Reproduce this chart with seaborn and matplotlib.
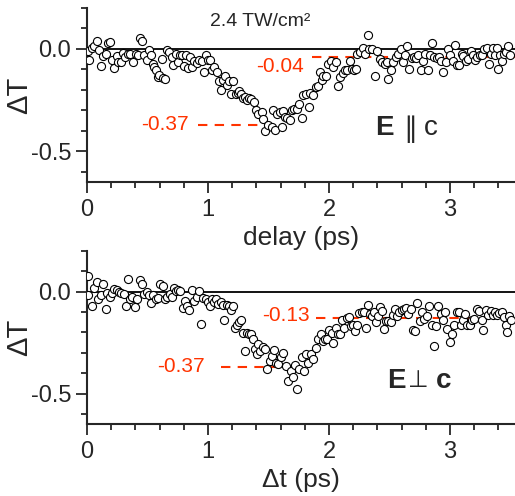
import matplotlib
matplotlib.use("Agg")
import matplotlib.pyplot as plt
import seaborn as sns
import pandas as pd
from matplotlib.ticker import MultipleLocator

# --- dữ liệu ---
top_x = [0.011, 0.019, 0.039, 0.061, 0.080, 0.099, 0.116, 0.135, 0.157, 0.176, 0.190, 0.209, 0.226, 0.245,
         0.259, 0.278, 0.300, 0.314, 0.336, 0.355, 0.383, 0.402, 0.424, 0.438, 0.457, 0.474, 0.493, 0.512,
         0.526, 0.543, 0.556, 0.570, 0.584, 0.598, 0.617, 0.631, 0.645, 0.658, 0.680, 0.700, 0.714, 0.733,
         0.749, 0.769, 0.788, 0.804, 0.815, 0.832, 0.851, 0.871, 0.887, 0.906, 0.928, 0.948, 0.967, 0.983,
         1.003, 1.017, 1.036, 1.052, 1.072, 1.091, 1.107, 1.121, 1.140, 1.154, 1.176, 1.190, 1.209, 1.229,
         1.245, 1.259, 1.270, 1.287, 1.306, 1.320, 1.342,
         1.355, 1.380, 1.397, 1.416, 1.443, 1.457, 1.471, 1.498, 1.526, 1.534, 1.554, 1.567, 1.595, 1.609,
         1.622, 1.636, 1.656, 1.678, 1.691, 1.713, 1.738, 1.755, 1.774, 1.788, 1.810, 1.832, 1.843, 1.870,
         1.892, 1.912, 1.925, 1.939, 1.953, 1.975, 1.994, 2.014, 2.036, 2.058, 2.077, 2.091, 2.113, 2.132,
         2.151, 2.173, 2.187, 2.207, 2.223, 2.234, 2.256, 2.278, 2.298, 2.319, 2.333, 2.353, 2.380, 2.399,
         2.421, 2.441, 2.463, 2.476, 2.490, 2.510, 2.532, 2.551, 2.573, 2.592, 2.609, 2.628, 2.647, 2.664,
         2.683, 2.702, 2.719, 2.738, 2.757, 2.774, 2.793, 2.815, 2.834, 2.848, 2.868, 2.890, 2.912, 2.926,
         2.945, 2.964, 2.986, 3.000, 3.022, 3.041, 3.060, 3.077, 3.096, 3.110, 3.132, 3.151, 3.171, 3.187,
         3.206, 3.226, 3.248, 3.261, 3.281, 3.303, 3.322, 3.336, 3.353, 3.372, 3.386, 3.399, 3.413, 3.432,
         3.446, 3.463, 3.477, 3.496]
top_y = [-0.008, -0.053, 0.003, 0.016, 0.039, -0.005, -0.084, -0.037, -0.024, 0.029, 0.035, -0.053, -0.094,
         -0.037, -0.062, -0.062, -0.020, -0.041, -0.024, -0.024, -0.065, -0.024, -0.028, 0.053, 0.040, -0.032,
         -0.053, -0.005, -0.029, -0.073, -0.086, -0.105, -0.138, -0.126, -0.049, -0.143, -0.146, -0.005,
         -0.016, -0.041, -0.078, -0.024, -0.065, -0.028, -0.032, -0.084, -0.029, -0.092, -0.041, -0.089,
         -0.060, -0.068, -0.053, -0.060, -0.113, -0.029, -0.052, -0.053, -0.102, -0.086, -0.113, -0.157,
         -0.202, -0.154, -0.130, -0.178, -0.157, -0.222, -0.157, -0.222, -0.214, -0.206, -0.219, -0.240,
         -0.235, -0.251, -0.240,
         -0.243, -0.259, -0.296, -0.316, -0.308, -0.340, -0.401, -0.372, -0.380, -0.299, -0.397, -0.316,
         -0.308, -0.380, -0.303, -0.332, -0.335, -0.348, -0.296, -0.291, -0.291, -0.267, -0.335, -0.227,
         -0.219, -0.283, -0.215, -0.223, -0.186, -0.183, -0.113, -0.151, -0.134, -0.130, -0.076, -0.057,
         -0.086, -0.062, -0.183, -0.138, -0.118, -0.105, -0.105, -0.057, -0.097, -0.102, -0.097, -0.024,
         -0.016, 0.003, -0.024, 0.069, 0.000, 0.000, -0.130, -0.008, -0.049, -0.065, -0.076, -0.065,
         -0.146, -0.105, -0.065, -0.041, -0.024, 0.000, -0.065, -0.032, 0.016, -0.097, -0.044, -0.041,
         -0.044, -0.028, -0.105, -0.060, -0.024, -0.105, -0.028, 0.027, -0.041, -0.044, -0.041, -0.057,
         -0.113, -0.065, 0.000, -0.028, -0.057, 0.019, -0.081, -0.081, -0.024, -0.037, -0.057, -0.049,
         -0.011, -0.032, -0.053, -0.041, -0.032, -0.028, 0.000, 0.005, -0.076, -0.024, 0.005, -0.032,
         0.005, -0.097, -0.028, -0.057, -0.024, -0.016, 0.016, -0.032]

bot_x = [0.011, 0.011, 0.039, 0.058, 0.080, 0.094, 0.113, 0.135, 0.154, 0.168, 0.190, 0.209, 0.226, 0.245,
         0.264, 0.281, 0.306, 0.322, 0.342, 0.355, 0.375, 0.397, 0.416, 0.438, 0.457, 0.471, 0.493, 0.512,
         0.529, 0.548, 0.567, 0.590, 0.603, 0.625, 0.645, 0.664, 0.686, 0.705, 0.722, 0.733, 0.749, 0.769,
         0.791, 0.810, 0.829, 0.846, 0.865, 0.884, 0.906, 0.926, 0.942, 0.961, 0.981, 0.997, 1.017, 1.036,
         1.052, 1.066, 1.085, 1.105, 1.121, 1.135, 1.154, 1.174, 1.187, 1.209, 1.223, 1.237, 1.256, 1.270,
         1.287, 1.306, 1.320, 1.342,
         1.355, 1.375, 1.388, 1.402, 1.416, 1.430, 1.452, 1.471, 1.490, 1.512, 1.526, 1.548, 1.562, 1.581,
         1.600, 1.617, 1.645, 1.664, 1.683, 1.700, 1.719, 1.738, 1.755, 1.774, 1.793, 1.810, 1.829, 1.848,
         1.865, 1.890, 1.912, 1.931, 1.948, 1.967, 1.986, 2.003, 2.022, 2.036, 2.058, 2.071, 2.091, 2.110,
         2.127, 2.146, 2.165, 2.182, 2.201, 2.215, 2.234, 2.251, 2.270, 2.289, 2.306, 2.319, 2.339, 2.353,
         2.372, 2.386, 2.402, 2.421, 2.435, 2.454, 2.471, 2.490, 2.510, 2.526, 2.545, 2.565, 2.581, 2.600,
         2.620, 2.636, 2.656, 2.675, 2.691, 2.711, 2.730, 2.752, 2.771, 2.788, 2.807, 2.826, 2.848, 2.868,
         2.884, 2.903, 2.923, 2.939, 2.959, 2.978, 3.000, 3.016, 3.036, 3.055, 3.074, 3.088, 3.105, 3.124,
         3.143, 3.165, 3.179, 3.198, 3.220, 3.240, 3.262, 3.275, 3.298, 3.317, 3.336, 3.353, 3.372, 3.391,
         3.408, 3.427, 3.446, 3.463, 3.474, 3.490, 3.501]
bot_y = [0.076, -0.016, -0.069, 0.016, 0.049, -0.037, -0.016, 0.037, -0.086, -0.005, -0.024, -0.005, 0.011,
         0.008, 0.000, -0.008, -0.011, -0.069, 0.060, -0.037, -0.027, -0.073, -0.037, 0.057, 0.036, -0.011,
         0.000, -0.016, -0.056, -0.016, -0.037, -0.032, 0.037, 0.029, -0.037, -0.027, -0.011, -0.024, 0.016,
         0.005, 0.008, 0.005, -0.081, -0.044, -0.069, -0.092, 0.008, -0.044, -0.027, 0.005, -0.157, -0.032,
         -0.037, -0.053, -0.069, -0.037, -0.053, -0.037, -0.060, -0.053, -0.065, -0.141, -0.065, -0.069,
         -0.092, -0.069, -0.178, -0.162, -0.150, -0.137, -0.202, -0.291, -0.202, -0.210,
         -0.210, -0.234, -0.283, -0.307, -0.259, -0.291, -0.270, -0.283, -0.380, -0.340, -0.315, -0.286,
         -0.348, -0.356, -0.319, -0.299, -0.364, -0.437, -0.388, -0.421, -0.361, -0.480, -0.380, -0.323,
         -0.388, -0.307, -0.348, -0.307, -0.328, -0.275, -0.234, -0.207, -0.243, -0.234, -0.234, -0.186,
         -0.205, -0.251, -0.178, -0.210, -0.210, -0.137, -0.178, -0.129, -0.124, -0.167, -0.162, -0.194,
         -0.162, -0.105, -0.102, -0.102, -0.178, -0.066, -0.108, -0.121, -0.102, -0.150, -0.118, -0.073,
         -0.097, -0.183, -0.145, -0.142, -0.150, -0.113, -0.086, -0.121, -0.102, -0.089, -0.086, -0.081,
         -0.108, -0.086, -0.186, -0.194, -0.056, -0.145, -0.102, -0.134, -0.121, -0.069, -0.162, -0.267,
         -0.167, -0.069, -0.108, -0.141, -0.102, -0.183, -0.247, -0.210, -0.162, -0.102, -0.102, -0.162,
         -0.137, -0.108, -0.162, -0.162, -0.141, -0.134, -0.086, -0.097, -0.137, -0.186, -0.089, -0.113,
         -0.097, -0.113, -0.102, -0.113, -0.105, -0.102, -0.124, -0.162, -0.199, -0.118, -0.137]

# mức bão hòa (đường đứt nét đỏ)
top_levels = [-0.37, -0.04]
top_spans = [(0.92, 1.47), (1.86, 3.54)]
bot_levels = [-0.37, -0.13]
bot_spans = [(1.11, 1.67), (1.89, 3.54)]
xticks = [0, 1, 2, 3]
yticks = [0.0, -0.5]

sns.set_style("ticks")
plt.rcParams['font.family'] = ['Liberation Sans', 'DejaVu Sans']
plt.rcParams['axes.linewidth'] = 1.5

red = '#ff3300'
fig = plt.figure(figsize=(5.15, 4.96), dpi=100)
ax1 = fig.add_axes([0.169, 0.633, 0.831, 0.351])
ax2 = fig.add_axes([0.169, 0.145, 0.831, 0.349])


def ve_panel(ax, xs, ys, levels, spans, xlabel):
    df = pd.DataFrame({'t': xs, 'dT': ys})
    ax.axhline(0, color='black', lw=1.3, zorder=1)
    for lv, (a, b) in zip(levels, spans):
        ax.plot([a, b], [lv, lv], color=red, lw=1.5, dashes=(4.5, 3.5), zorder=2)
    sns.scatterplot(data=df, x='t', y='dT', ax=ax, marker='o', s=34,
                    facecolor='white', edgecolor='black', linewidth=0.8, zorder=3)
    ax.set_xlim(0, 3.537)
    ax.set_ylim(-0.65, 0.2)
    ax.set_xticks(xticks)
    ax.set_yticks(yticks)
    ax.set_yticklabels(['0.0', '-0.5'])
    ax.xaxis.set_minor_locator(MultipleLocator(0.2))
    ax.yaxis.set_minor_locator(MultipleLocator(0.1))
    ax.tick_params(which='major', length=8, width=1.3, labelsize=17, direction='out')
    ax.tick_params(which='minor', length=4.5, width=1.3, direction='out')
    ax.tick_params(axis='x', pad=4)
    sns.despine(ax=ax, top=True, right=True)
    ax.set_xlabel(xlabel, fontsize=19, labelpad=4)
    ax.set_ylabel('ΔT', fontsize=21)
    ax.yaxis.set_label_coords(-0.125, 0.5)


ve_panel(ax1, top_x, top_y, top_levels, top_spans, 'delay (ps)')
ve_panel(ax2, bot_x, bot_y, bot_levels, bot_spans, 'Δt (ps)')

# nhãn đỏ
ax1.text(0.84, -0.37, '-0.37', color=red, fontsize=15, ha='right', va='center')
ax1.text(1.79, -0.085, '-0.04', color=red, fontsize=15, ha='right', va='center')
ax2.text(0.97, -0.365, '-0.37', color=red, fontsize=15, ha='right', va='center')
ax2.text(1.84, -0.118, '-0.13', color=red, fontsize=15, ha='right', va='center')

ax1.text(1.43, 0.135, '2.4 TW/cm²', fontsize=14, ha='center', va='center')

ax1.text(2.38, -0.385, 'E', fontsize=20, fontweight='bold', ha='left', va='center')
ax1.text(2.67, -0.39, '∥', fontsize=20, ha='center', va='center')
ax1.text(2.84, -0.385, 'c', fontsize=20, ha='center', va='center')

ax2.text(2.48, -0.437, 'E', fontsize=20, fontweight='bold', ha='left', va='center')
ax2.text(2.74, -0.437, '⊥', fontsize=17, ha='center', va='center')
ax2.text(2.95, -0.437, 'c', fontsize=20, fontweight='bold', ha='center', va='center')

fig.savefig('out.png', dpi=100)
